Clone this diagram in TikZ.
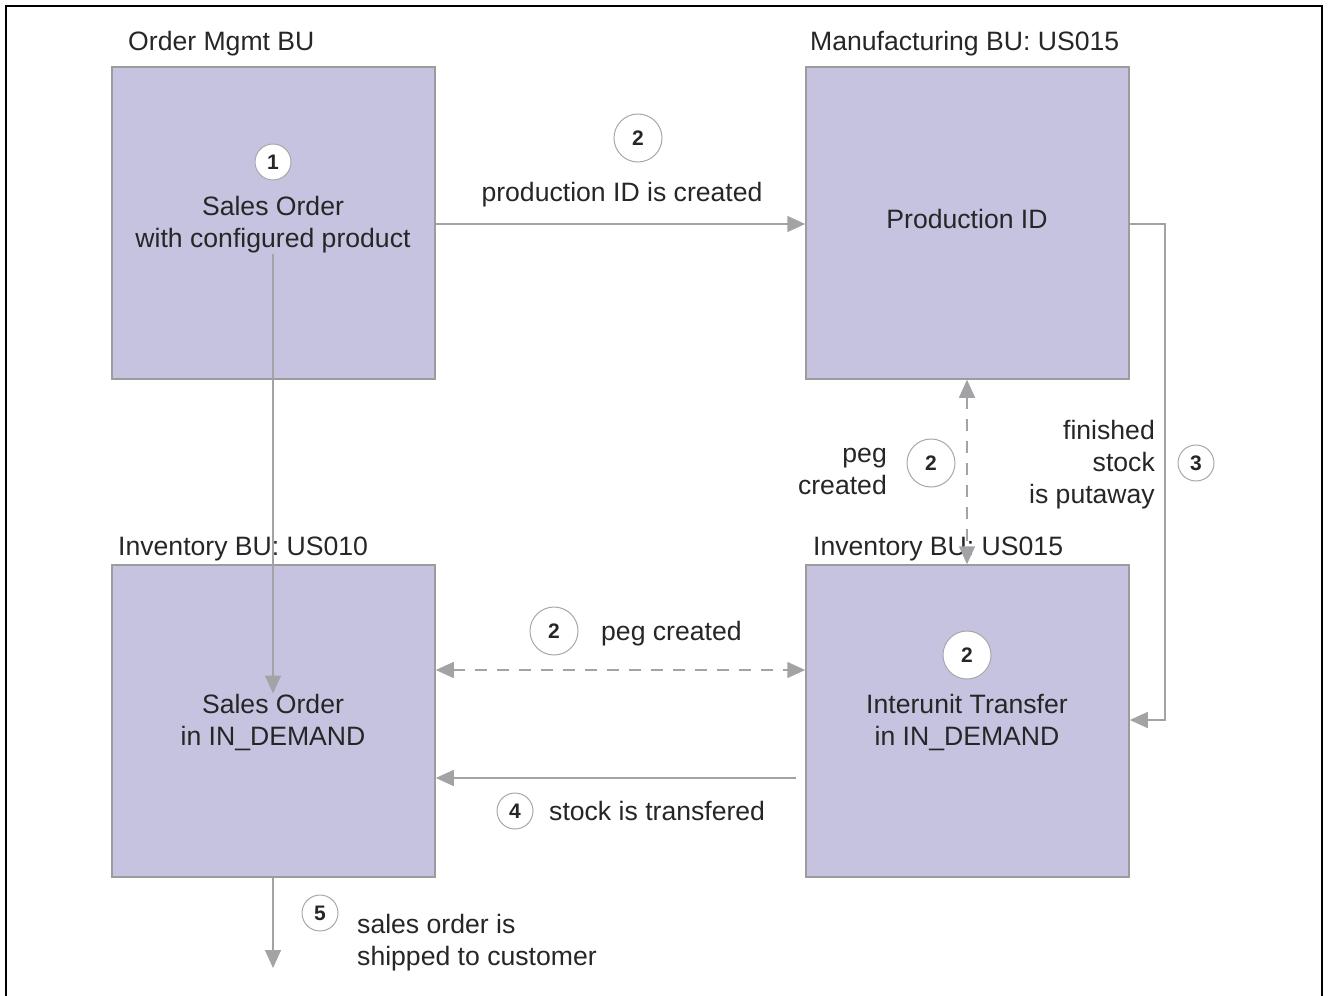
\documentclass[tikz,border=0pt]{standalone}
\usepackage{fontspec}
\setmainfont{Liberation Sans}
\usetikzlibrary{arrows.meta}
\definecolor{buFill}{HTML}{C6C3E1}
\definecolor{buEdge}{HTML}{9C9C9C}
\definecolor{flow}{HTML}{A3A3A6}
\definecolor{ringEdge}{HTML}{A8A8A8}
\begin{document}
\begin{tikzpicture}[x=1pt,y=-1pt,
  bu/.style={draw=buEdge, fill=buFill, line width=1.5pt, inner sep=0pt,
    minimum width=323pt, minimum height=312pt},
  txt/.style={inner sep=0pt, font=\fontsize{26.6}{32}\selectfont, text=black!85},
  num/.style={circle, draw=ringEdge, fill=white, line width=1pt, inner sep=0pt,
    minimum size=36pt, font=\bfseries\fontsize{21}{21}\selectfont, text=black!85},
  numbig/.style={num, minimum size=48pt},
  flowline/.style={draw=flow, line width=1.5pt},
  tip/.style={-{Triangle[length=18pt,width=16pt]}},
  tips/.style={{Triangle[length=18pt,width=16pt]}-{Triangle[length=18pt,width=16pt]}},
  pegline/.style={flowline, dash pattern=on 12pt off 10pt}]
\useasboundingbox (0,0) rectangle (1329,995);
% outer frame
\draw[line width=2.5pt] (6,1000) -- (6,6) -- (1322,6) -- (1322,1000);

% business unit boxes
\node[bu] (om)  at (273.5,223) {};
\node[bu] (mfg) at (967.5,223) {};
\node[bu] (inv10) at (273.5,721) {};
\node[bu] (inv15) at (967.5,721) {};

% box titles
\node[txt, anchor=base west] (tOm)  at (128,51)  {Order Mgmt BU};
\node[txt, anchor=base west] (tMfg) at (810,51)  {Manufacturing BU: US015};
\node[txt, anchor=base west] (tI10) at (118,555) {Inventory BU: US010};
\node[txt, anchor=base west] (tI15) at (813,555) {Inventory BU: US015};

% box contents (multi-line nodes are placed by the baseline of their last line)
\node[num] (n1) at (273,162) {1};
\node[txt, align=center, anchor=base] (so) at (273,247) {Sales Order\\with configured product};
\node[txt, anchor=base] (pid) at (967,228) {Production ID};
\node[txt, align=center, anchor=base] (soDem) at (273,745) {Sales Order\\in IN\_DEMAND};
\node[numbig] (n2d) at (967,655) {2};
\node[txt, align=center, anchor=base] (iut) at (967,745) {Interunit Transfer\\in IN\_DEMAND};

% flows
\coordinate (soBot) at (273,254);
\draw[flowline, tip] (soBot) -- (soDem.north);
\coordinate (pidRow) at (600,224);
\draw[flowline, tip] (om.east |- pidRow) -- (mfg.west |- pidRow);
\draw[pegline, tips] (mfg.south -| pid) -- (inv15.north -| pid);
\coordinate (pegRow) at (600,670);
\draw[pegline, tips] (inv10.east |- pegRow) -- (inv15.west |- pegRow);
\coordinate (xferStart) at (796,778);
\draw[flowline, tip] (xferStart) -- (xferStart -| inv10.east);
\coordinate (putTop) at (1165,224);
\coordinate (putBot) at (1165,720);
\draw[flowline, tip] (mfg.east |- putTop) -- (putTop) -- (putBot) -- (putBot -| inv15.east);
\coordinate (shipEnd) at (273,968);
\draw[flowline, tip] (inv10.south -| shipEnd) -- (shipEnd);

% flow labels
\node[numbig] (n2a) at (638,138) {2};
\node[txt, anchor=base] (lPid) at (622,201) {production ID is created};
\node[txt, align=right, anchor=base east] (lPeg) at (887,494) {peg\\created};
\node[numbig] (n2b) at (931,463) {2};
\node[txt, align=right, anchor=base east] (lPut) at (1155,503) {finished\\stock\\is putaway};
\node[num] (n3) at (1196,463) {3};
\node[numbig] (n2c) at (554,631) {2};
\node[txt, anchor=base west] (lPeg2) at (601,640) {peg created};
\node[num] (n4) at (515,811) {4};
\node[txt, anchor=base west] (lXfer) at (549,820) {stock is transfered};
\node[num] (n5) at (320,913) {5};
\node[txt, align=left, anchor=base west] (lShip) at (357,965) {sales order is\\shipped to customer};
\end{tikzpicture}
\end{document}
